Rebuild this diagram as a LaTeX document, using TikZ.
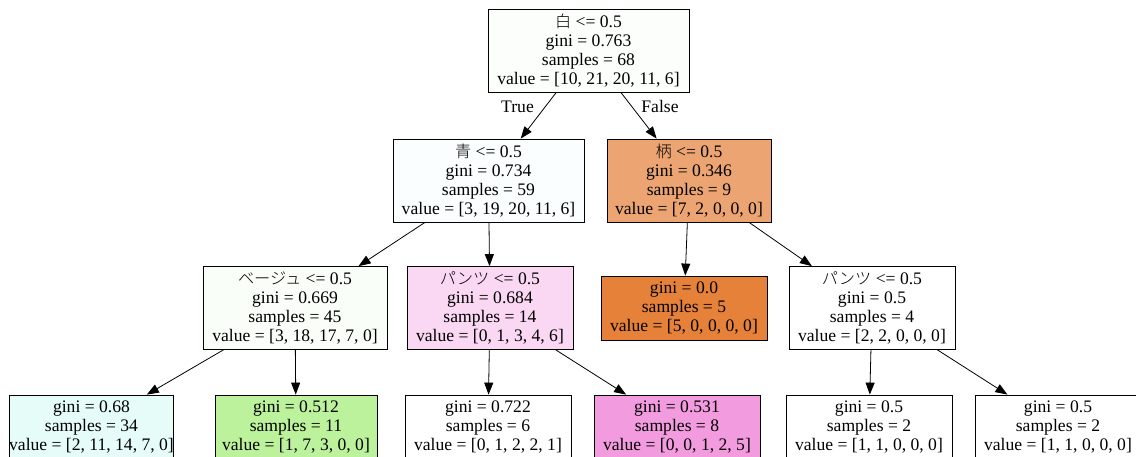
\documentclass[tikz,border=0pt]{standalone}
\usepackage{fontspec}
\setmainfont{Liberation Serif}
\newfontfamily\jp[Scale=0.92]{Noto Sans CJK JP Light}
\usepackage{xcolor}
\usetikzlibrary{arrows.meta}
\definecolor{n0}{RGB}{252,254,251}
\definecolor{n1}{RGB}{250,254,254}
\definecolor{n2}{RGB}{250,254,248}
\definecolor{n3}{RGB}{229,252,248}
\definecolor{n4}{RGB}{189,242,156}
\definecolor{n5}{RGB}{250,215,242}
\definecolor{n7}{RGB}{242,156,223}
\definecolor{n8}{RGB}{236,165,114}
\definecolor{n9}{RGB}{229,129,57}
\tikzset{>={Triangle[length=12pt,width=9pt]}}
\tikzset{split node/.style={draw,rectangle,align=center,inner sep=0pt,minimum height=83pt,
            font=\fontsize{17.6}{19}\selectfont},
         leaf node/.style={split node,minimum height=64pt},
         edge label/.style={font=\fontsize{17.6}{19}\selectfont}
            }

\begin{document}
\begin{tikzpicture}[x=1pt,y=-1pt,line width=0.8pt]
    \useasboundingbox (0,0) rectangle (1136,457);
    \clip (0,0) rectangle (1136,457);

    \node[split node,fill=n0,minimum width=201pt] (0) at (588.5,50.5) {{\jp 白} <= 0.5\\gini = 0.763\\samples = 68\\value = [10, 21, 20, 11, 6]};
    \node[split node,fill=n1,minimum width=191pt] (1) at (488.5,180.5) {{\jp 青} <= 0.5\\gini = 0.734\\samples = 59\\value = [3, 19, 20, 11, 6]};
    \node[split node,fill=n8,minimum width=164pt] (8) at (689,180.5) {{\jp 柄} <= 0.5\\gini = 0.346\\samples = 9\\value = [7, 2, 0, 0, 0]};

    \node[split node,fill=n2,minimum width=184pt] (2) at (295,308) {{\jp ベージュ} <= 0.5\\gini = 0.669\\samples = 45\\value = [3, 18, 17, 7, 0]};
    \node[split node,fill=n5,minimum width=166pt] (5) at (490,308) {{\jp パンツ} <= 0.5\\gini = 0.684\\samples = 14\\value = [0, 1, 3, 4, 6]};
    \node[leaf node,fill=n9,minimum width=166pt] (9) at (684,308) {gini = 0.0\\samples = 5\\value = [5, 0, 0, 0, 0]};
    \node[split node,fill=white,minimum width=166pt] (10) at (872,308) {{\jp パンツ} <= 0.5\\gini = 0.5\\samples = 4\\value = [2, 2, 0, 0, 0]};

    \node[leaf node,fill=n3,minimum width=163pt] (3) at (91.5,427) {gini = 0.68\\samples = 34\\value = [2, 11, 14, 7, 0]};
    \node[leaf node,fill=n4,minimum width=162pt] (4) at (296,427) {gini = 0.512\\samples = 11\\value = [1, 7, 3, 0, 0]};
    \node[leaf node,fill=white,minimum width=166pt] (6) at (488,427) {gini = 0.722\\samples = 6\\value = [0, 1, 2, 2, 1]};
    \node[leaf node,fill=n7,minimum width=166pt] (7) at (677,427) {gini = 0.531\\samples = 8\\value = [0, 0, 1, 2, 5]};
    \node[leaf node,fill=white,minimum width=166pt] (11) at (869,427) {gini = 0.5\\samples = 2\\value = [1, 1, 0, 0, 0]};
    \node[leaf node,fill=white,minimum width=166pt] (12) at (1058,427) {gini = 0.5\\samples = 2\\value = [1, 1, 0, 0, 0]};

    \node[edge label] (true) at (517.5,106.5) {True};
    \node[edge label] (false) at (660,106.5) {False};

    \path[draw,->]
    (0) edge (1)
    (0) edge (8)
    (1) edge (2)
    (1) edge (5)
    (2) edge (3)
    (2) edge (4)
    (5) edge (6)
    (5) edge (7)
    (8) edge (9)
    (8) edge (10)
    (10) edge (11)
    (10) edge (12);

\end{tikzpicture}
\end{document}
